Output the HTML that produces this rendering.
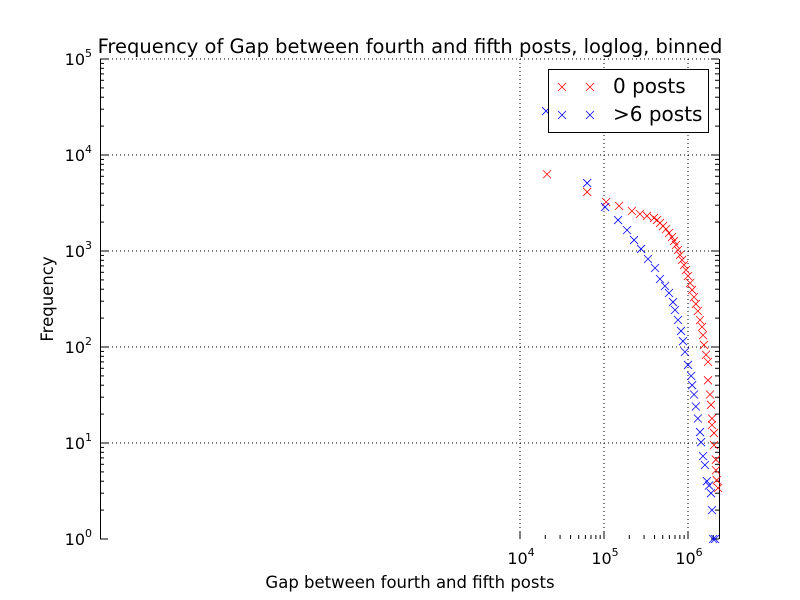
<!DOCTYPE html>
<html><head><meta charset="utf-8"><style>
body{margin:0;background:#fff;}
svg{display:block;font-family:"DejaVu Sans","Liberation Sans",sans-serif;}
</style></head><body>
<svg id="chart" width="800" height="600"></svg>
<script>
const redX=[2.1e4,6.3e4,1.06e5,1.51e5,2.15e5,2.68e5,3.25e5,3.94e5,4.27e5,4.64e5,5.04e5,5.47e5,5.94e5,6.45e5,6.81e5,7.2e5,7.6e5,8.03e5,8.49e5,8.96e5,9.46e5,1.0e6,1.06e6,1.12e6,1.18e6,1.24e6,1.31e6,1.39e6,1.47e6,1.51e6,1.55e6,1.64e6,1.73e6,1.73e6,1.83e6,1.88e6,1.93e6,1.93e6,2.04e6,2.04e6,2.15e6,2.15e6,2.2e6,2.28e6];
const redY=[6300,4120,3240,2950,2610,2430,2320,2210,2100,1960,1820,1690,1540,1400,1270,1155,1025,908,806,715,634,549,464,393,331,281,237,191,162,133,105,83,70,45,32,25,18,15.4,12.7,9.5,6.7,5.2,4.1,3.4];
const blueX=[2.04e4,6.3e4,1.03e5,1.47e5,1.88e5,2.28e5,2.76e5,3.34e5,4.05e5,4.64e5,5.32e5,5.94e5,6.63e5,7.0e5,7.6e5,8.26e5,8.72e5,9.2e5,1.0e6,1.09e6,1.12e6,1.18e6,1.24e6,1.31e6,1.39e6,1.43e6,1.51e6,1.59e6,1.68e6,1.78e6,1.88e6,1.93e6,1.99e6,2.1e6];
const blueY=[28700,5100,2870,2100,1650,1300,1050,825,665,511,432,365,294,243,191,147,115,89,65,50,40,32,24,18,13,10.2,7.3,5.9,4.0,3.6,3.0,2.0,1,1];
const xTicks=[1e4,1e5,1e6];
const xTickLabels=["4","5","6"];
const yTicks=[1,10,100,1000,1e4,1e5];
const yTickLabels=["0","1","2","3","4","5"];

const L=100,R=719,T=59,B=539;
const xs=v=>520+(Math.log10(v)-4)*84;
const ys=v=>B-Math.log10(v)*96;
const NS="http://www.w3.org/2000/svg";
const svg=document.getElementById('chart');
function mk(tag,attrs,parent){const e=document.createElementNS(NS,tag);for(const k in attrs)e.setAttribute(k,attrs[k]);(parent||svg).appendChild(e);return e;}

xTicks.forEach((v,i)=>{const g=mk('line',{x1:xs(v),x2:xs(v),y1:T,y2:B,stroke:'#000','stroke-dasharray':'1,3','stroke-width':1});

});
yTicks.forEach((v,i)=>{if(i===0)return;const g=mk('line',{x1:L,x2:R,y1:ys(v),y2:ys(v),stroke:'#000','stroke-dasharray':'1,3','stroke-width':1});

});

const sl=mk('line',{x1:L+.5,x2:L+.5,y1:T,y2:B,stroke:'#000','stroke-width':1});


const sr=mk('line',{x1:R+.5,x2:R+.5,y1:T,y2:B,stroke:'#000','stroke-width':1});



yTicks.forEach((v,i)=>{const y=ys(v);
 mk('line',{x1:L,x2:L+8,y1:y,y2:y,stroke:'#000'});mk('line',{x1:R,x2:R-8,y1:y,y2:y,stroke:'#000'});
 if(i<yTicks.length-1){for(let m=2;m<10;m++){const ym=ys(v*m);mk('line',{x1:L,x2:L+4,y1:ym,y2:ym,stroke:'#000'});mk('line',{x1:R,x2:R-4,y1:ym,y2:ym,stroke:'#000'});}}
 const t=mk('text',{x:L-8,y:y+6,'text-anchor':'end','font-size':16});
 
 
 t.innerHTML='10<tspan dy="-8" font-size="11">'+yTickLabels[i]+'</tspan>';});
xTicks.forEach((v,i)=>{const x=xs(v);mk('line',{x1:x,x2:x,y1:B,y2:B-8,stroke:'#000'});
 for(let m=2;m<10;m++){const xm=xs(v*m);if(xm>R)break;mk('line',{x1:xm,x2:xm,y1:B,y2:B-4,stroke:'#000'});}
 const t=mk('text',{x:x+1,y:B+25,'text-anchor':'middle','font-size':16});
 
 
 t.innerHTML='10<tspan dy="-8" font-size="11">'+xTickLabels[i]+'</tspan>';});

function marks(X,Y,color,name){X.forEach((v,i)=>{const x=xs(v),y=ys(Y[i]);
 const p=mk('path',{d:`M${x-4},${y-4}L${x+4},${y+4}M${x-4},${y+4}L${x+4},${y-4}`,stroke:color,'stroke-width':0.8,fill:'none'});
 
 });}
marks(redX,redY,'#ff0000','red-point');
marks(blueX,blueY,'#0000ff','blue-point');

const tt=mk('text',{x:410,y:53,'text-anchor':'middle','font-size':19.5});tt.textContent='Frequency of Gap between fourth and fifth posts, loglog, binned';


const xt=mk('text',{x:410,y:588,'text-anchor':'middle','font-size':16.5});xt.textContent='Gap between fourth and fifth posts';


const yt=mk('text',{x:0,y:0,'text-anchor':'middle','font-size':16.5,transform:'translate(53,299) rotate(-90)'});yt.textContent='Frequency';



const lg=mk('g',{});


mk('rect',{x:548.5,y:69.5,width:160,height:63,fill:'#fff',stroke:'#000'},lg);
[['#ff0000','0 posts',87],['#0000ff','>6 posts',115]].forEach(([c,l,y])=>{
 [562,590].forEach(x=>mk('path',{d:`M${x-4},${y-4}L${x+4},${y+4}M${x-4},${y+4}L${x+4},${y-4}`,stroke:c,'stroke-width':0.8},lg));
 const t=mk('text',{x:613,y:y+6,'font-size':20},lg);t.textContent=l;
 
 });
</script>
</body></html>
